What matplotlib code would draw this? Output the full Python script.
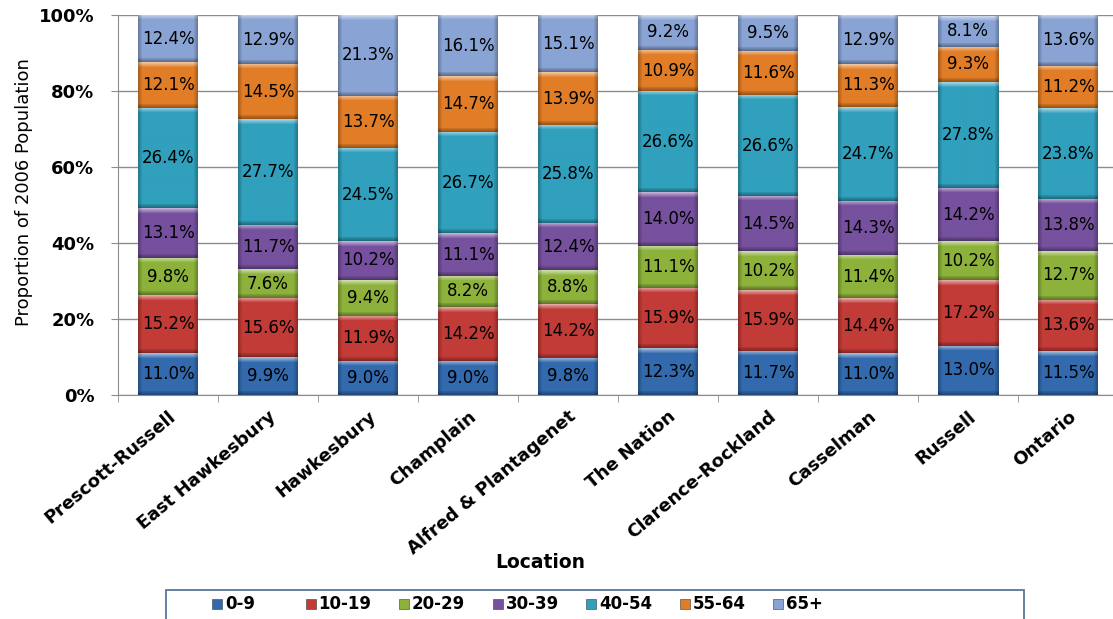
import numpy as np
import matplotlib
matplotlib.use("Agg")
import matplotlib.pyplot as plt
from matplotlib.patches import Rectangle
from matplotlib.colors import to_rgb

locations = ["Prescott-Russell", "East Hawkesbury", "Hawkesbury", "Champlain",
             "Alfred & Plantagenet", "The Nation", "Clarence-Rockland",
             "Casselman", "Russell", "Ontario"]
age_groups = ["0-9", "10-19", "20-29", "30-39", "40-54", "55-64", "65+"]

age_0_9   = [11.0, 9.9, 9.0, 9.0, 9.8, 12.3, 11.7, 11.0, 13.0, 11.5]
age_10_19 = [15.2, 15.6, 11.9, 14.2, 14.2, 15.9, 15.9, 14.4, 17.2, 13.6]
age_20_29 = [9.8, 7.6, 9.4, 8.2, 8.8, 11.1, 10.2, 11.4, 10.2, 12.7]
age_30_39 = [13.1, 11.7, 10.2, 11.1, 12.4, 14.0, 14.5, 14.3, 14.2, 13.8]
age_40_54 = [26.4, 27.7, 24.5, 26.7, 25.8, 26.6, 26.6, 24.7, 27.8, 23.8]
age_55_64 = [12.1, 14.5, 13.7, 14.7, 13.9, 10.9, 11.6, 11.3, 9.3, 11.2]
age_65up  = [12.4, 12.9, 21.3, 16.1, 15.1, 9.2, 9.5, 12.9, 8.1, 13.6]

series = [age_0_9, age_10_19, age_20_29, age_30_39, age_40_54, age_55_64, age_65up]
colors = ["#336aae", "#c23b37", "#8db23b", "#76519e", "#30a0bd", "#e27d27", "#89a4d4"]

W, H = 1113, 619
fig = plt.figure(figsize=(W / 100, H / 100), dpi=100)
ax = fig.add_axes([118 / W, 1 - 395 / H, 1000 / W, 380 / H])

x = np.arange(len(locations))
bar_w = 0.6
px_per_unit_y = 380 / 100.0


def bevel(x0, x1, y0, y1, color):
    # fake the Excel bevel with a small shaded image over the bar
    hpx = max(int(round((y1 - y0) * px_per_unit_y)), 4)
    wpx = 60
    base = np.array(to_rgb(color))
    img = np.tile(base, (hpx, wpx, 1))
    white = np.ones(3)
    # top highlight (row 0 is top because origin='upper')
    for r in range(min(5, hpx)):
        a = 0.55 * (1 - r / 5)
        img[r] = img[r] * (1 - a) + white * a
    for r in range(min(4, hpx)):
        img[hpx - 1 - r] *= 0.68 + 0.07 * r
    for c in range(4):
        img[:, c] *= 0.75 + 0.06 * c
        img[:, wpx - 1 - c] *= 0.75 + 0.06 * c
    ax.imshow(np.clip(img, 0, 1), extent=(x0, x1, y0, y1), aspect="auto",
              interpolation="bilinear", zorder=3)


bottom = np.zeros(len(locations))
for vals, col, name in zip(series, colors, age_groups):
    vals = np.array(vals)
    ax.bar(x, vals, bar_w, bottom=bottom, color=col, label=name, zorder=2,
           linewidth=0)
    for xi, b, v in zip(x, bottom, vals):
        bevel(xi - bar_w / 2, xi + bar_w / 2, b, b + v, col)
        ax.text(xi, b + v / 2, f"{v:.1f}%", ha="center", va="center",
                fontsize=12, color="black", zorder=5)
    bottom += vals

ax.set_xlim(-0.5, len(locations) - 0.5)
ax.set_ylim(0, 100)
ax.set_yticks(np.arange(0, 101, 20))
ax.set_yticklabels([f"{v}%" for v in range(0, 101, 20)], fontsize=13,
                   fontweight="bold")
ax.yaxis.grid(True, color="#8c8c8c", linewidth=1, zorder=0)
ax.set_axisbelow(True)

ax.set_xticks(x)
ax.set_xticklabels(locations, rotation=40, ha="right", rotation_mode="anchor",
                   fontsize=13, fontweight="bold")
ax.set_xticks(np.arange(-0.5, len(locations), 1), minor=True)
ax.tick_params(axis="x", which="major", length=0, pad=9)
ax.tick_params(axis="x", which="minor", length=5, color="#8c8c8c")
ax.tick_params(axis="y", length=5, color="#8c8c8c", pad=12)

for s in ["top", "right"]:
    ax.spines[s].set_visible(False)
for s in ["left", "bottom"]:
    ax.spines[s].set_color("#8c8c8c")

ax.set_ylabel("Proportion of 2006 Population", fontsize=13)
ax.yaxis.set_label_coords(-85 / 1000, 0.535)
fig.text(540 / W, 1 - 562 / H, "Location", ha="center", va="center",
         fontsize=13.5, fontweight="bold")

# legend: box plus evenly spaced entries, like the Excel legend
fig.patches.append(Rectangle((166 / W, 1 - 625 / H), (1024 - 166) / W, 35 / H,
                             transform=fig.transFigure, fill=False,
                             edgecolor="#4a6b94", linewidth=1.2))
leg_x0, leg_step, leg_y = 212, 93.5, 604
for i, (name, col) in enumerate(zip(age_groups, colors)):
    lx = leg_x0 + i * leg_step
    fig.patches.append(Rectangle((lx / W, (H - leg_y - 5) / H), 10 / W, 10 / H,
                                 transform=fig.transFigure, facecolor=col,
                                 edgecolor="#3a3a3a", linewidth=0.4))
    fig.text((lx + 13) / W, (H - leg_y) / H, name, ha="left", va="center",
             fontsize=12, fontweight="bold")

fig.savefig("out.png", dpi=100)
